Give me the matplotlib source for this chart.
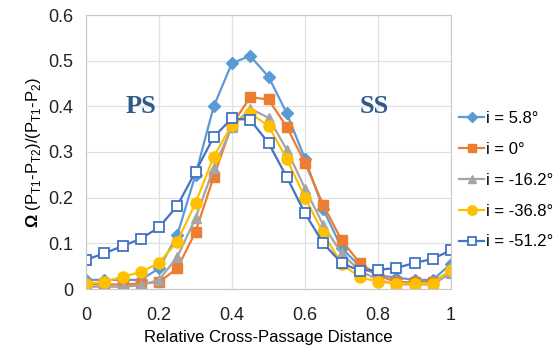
import matplotlib
matplotlib.use("Agg")
import matplotlib.pyplot as plt

plt.rcParams['font.family'] = ['Liberation Sans', 'DejaVu Sans']
plt.rcParams['mathtext.fontset'] = 'custom'
plt.rcParams['mathtext.rm'] = 'Liberation Sans'
plt.rcParams['mathtext.bf'] = 'Liberation Sans:bold'

x = [i * 0.05 for i in range(21)]

inc_58 = [0.02, 0.02, 0.02, 0.02, 0.045, 0.118, 0.25, 0.40, 0.495, 0.51, 0.465,
          0.385, 0.285, 0.175, 0.09, 0.05, 0.03, 0.025, 0.02, 0.02, 0.055]
inc_0 = [0.01, 0.01, 0.01, 0.012, 0.015, 0.045, 0.125, 0.246, 0.36, 0.42, 0.415,
         0.355, 0.276, 0.184, 0.107, 0.057, 0.03, 0.015, 0.015, 0.015, 0.04]
inc_m162 = [0.005, 0.005, 0.005, 0.008, 0.02, 0.07, 0.155, 0.265, 0.355, 0.395, 0.375,
            0.305, 0.22, 0.14, 0.078, 0.04, 0.02, 0.01, 0.01, 0.01, 0.035]
inc_m368 = [0.012, 0.015, 0.027, 0.037, 0.057, 0.104, 0.188, 0.29, 0.36, 0.385, 0.357,
            0.285, 0.20, 0.122, 0.055, 0.026, 0.016, 0.012, 0.012, 0.012, 0.042]
inc_m512 = [0.064, 0.078, 0.094, 0.11, 0.135, 0.182, 0.257, 0.333, 0.374, 0.37, 0.32,
            0.245, 0.166, 0.10, 0.057, 0.04, 0.042, 0.046, 0.057, 0.066, 0.085]

labels = ['i = 5.8°', 'i = 0°', 'i = -16.2°', 'i = -36.8°', 'i = -51.2°']

fig = plt.figure(figsize=(5.58, 3.56), dpi=100)
ax = fig.add_axes([86 / 558, 1 - 289 / 356, 365 / 558, 274 / 356])

ax.plot(x, inc_58, color='#5B9BD5', marker='D', markersize=6.5, lw=1.6, label=labels[0])
ax.plot(x, inc_0, color='#ED7D31', marker='s', markersize=6.5, lw=1.6, label=labels[1])
ax.plot(x, inc_m162, color='#A5A5A5', marker='^', markersize=7, lw=1.6, label=labels[2])
ax.plot(x, inc_m368, color='#FFC000', marker='o', markersize=8, lw=1.6, label=labels[3])
ax.plot(x, inc_m512, color='#4472C4', marker='s', markersize=7, lw=1.6,
        markerfacecolor='white', markeredgewidth=1.3, label=labels[4])

ax.set_xlim(0, 1)
ax.set_ylim(0, 0.6)
ax.set_xticks([0, 0.2, 0.4, 0.6, 0.8, 1])
ax.set_xticklabels(['0', '0.2', '0.4', '0.6', '0.8', '1'])
ax.set_yticks([0, 0.1, 0.2, 0.3, 0.4, 0.5, 0.6])
ax.set_yticklabels(['0', '0.1', '0.2', '0.3', '0.4', '0.5', '0.6'])
ax.tick_params(length=0, labelsize=13, colors='#222222')
ax.tick_params(axis='y', pad=9)
ax.tick_params(axis='x', pad=13)
ax.grid(True, color='#E0E0E0', lw=0.9)
ax.set_axisbelow(True)
for s in ax.spines.values():
    s.set_color('#C8C8C8')

ax.set_xlabel('Relative Cross-Passage Distance', fontsize=12, labelpad=4)
ax.set_ylabel(r'$\mathbf{\Omega}$ (P$_{\mathrm{T1}}$-P$_{\mathrm{T2}}$)/(P$_{\mathrm{T1}}$-P$_{2}$)',
              fontsize=12, labelpad=4)

ax.text(0.15, 0.4, 'PS', fontsize=19, fontweight='bold', family='Liberation Serif',
        color='#2F5A8C', ha='center', va='center')
ax.text(0.79, 0.4, 'SS', fontsize=19, fontweight='bold', family='Liberation Serif',
        color='#2F5A8C', ha='center', va='center')

ax.legend(loc='upper left', bbox_to_anchor=(1.0, 0.68), frameon=False, fontsize=12,
          handlelength=1.5, handletextpad=0.1, borderaxespad=0.1, labelspacing=0.95,
          markerscale=0.85)

fig.savefig('out.png', dpi=100)
